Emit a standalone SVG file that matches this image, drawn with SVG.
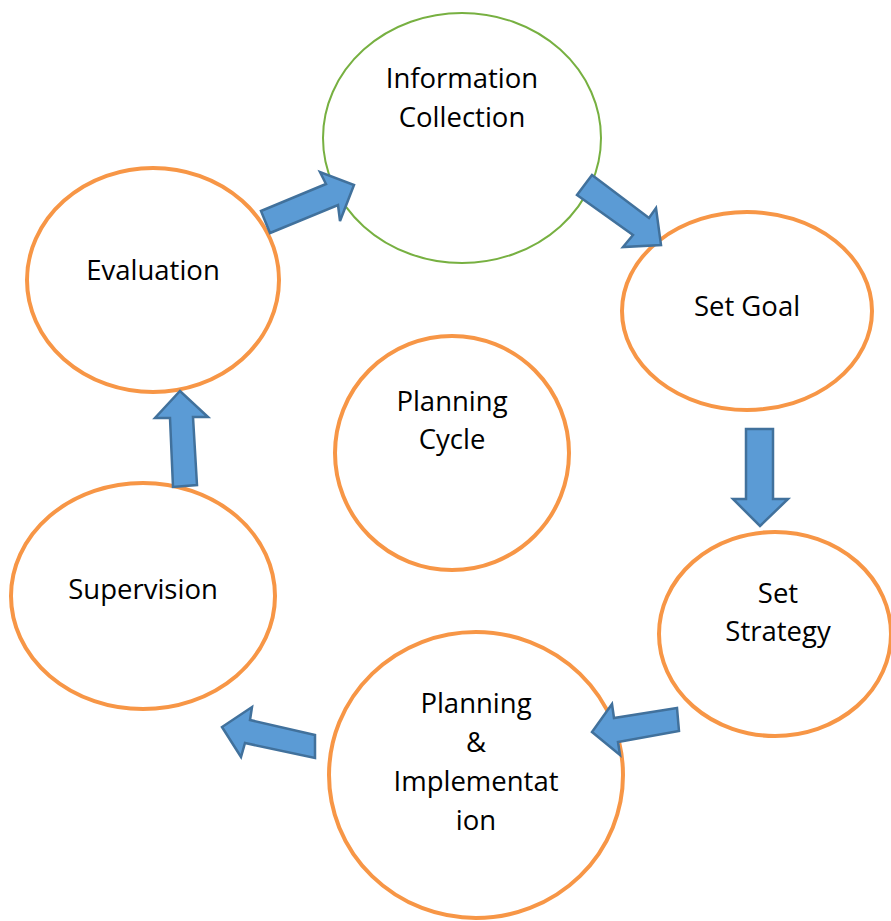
<svg xmlns="http://www.w3.org/2000/svg" width="891" height="921" viewBox="0 0 891 921">
  <style>
    .stage { fill: #ffffff; stroke: #F79646; stroke-width: 4; }
    .start { fill: #ffffff; stroke: #77B041; stroke-width: 2; }
    .label { font-family: "Open Sans", "Liberation Sans", sans-serif; font-size: 27.5px; fill: #000000; text-anchor: middle; }
    .arrow { fill: #5B9BD5; stroke: #41719C; stroke-width: 2.5; stroke-linejoin: miter; }
  </style>
  <rect width="891" height="921" fill="#ffffff"/>

  <g id="info-collection">
    <ellipse class="start" cx="462" cy="138" rx="139" ry="125"/>
    <text class="label" x="462" y="88">Information</text>
    <text class="label" x="462" y="127">Collection</text>
  </g>

  <g id="evaluation">
    <ellipse class="stage" cx="153" cy="280" rx="126" ry="112"/>
    <text class="label" x="153" y="280">Evaluation</text>
  </g>

  <g id="set-goal">
    <ellipse class="stage" cx="747" cy="311" rx="125" ry="99"/>
    <text class="label" x="747" y="316">Set Goal</text>
  </g>

  <g id="planning-cycle">
    <ellipse class="stage" cx="452" cy="453" rx="117" ry="117"/>
    <text class="label" x="452" y="411">Planning</text>
    <text class="label" x="452" y="449">Cycle</text>
  </g>

  <g id="supervision">
    <ellipse class="stage" cx="143" cy="596" rx="132" ry="113"/>
    <text class="label" x="143" y="599">Supervision</text>
  </g>

  <g id="set-strategy">
    <ellipse class="stage" cx="775" cy="634" rx="116" ry="102"/>
    <text class="label" x="778" y="603">Set</text>
    <text class="label" x="778" y="641">Strategy</text>
  </g>

  <g id="planning-implementation">
    <ellipse class="stage" cx="476" cy="775" rx="147" ry="143"/>
    <text class="label" x="476" y="713">Planning</text>
    <text class="label" x="476" y="752">&amp;</text>
    <text class="label" x="476" y="791">Implementat</text>
    <text class="label" x="476" y="830">ion</text>
  </g>

  <g id="connectors">
    <!-- Evaluation to Information Collection -->
    <polygon class="arrow" points="261,211 326,184 320,172 354,185 340,221 338,205 270,233"/>
    <!-- Information Collection to Set Goal -->
    <polygon class="arrow" points="592,175 649,218 656,208 661,245 623,247 633,235 577,195"/>
    <!-- Set Goal to Set Strategy -->
    <polygon class="arrow" points="746,429 773,429 773,499 788,499 760,526 733,499 746,499"/>
    <!-- Set Strategy to Planning & Implementation -->
    <polygon class="arrow" points="677,708 614,718 612,704 592,732 620,755 618,742 679,731"/>
    <!-- Planning & Implementation to Supervision -->
    <polygon class="arrow" points="315,735 250,720 252,707 222,727 241,757 245,743 315,758"/>
    <!-- Supervision to Evaluation -->
    <polygon class="arrow" points="173,487 170,418 155,418 180,391 208,417 193,417 197,485"/>
  </g>
</svg>
